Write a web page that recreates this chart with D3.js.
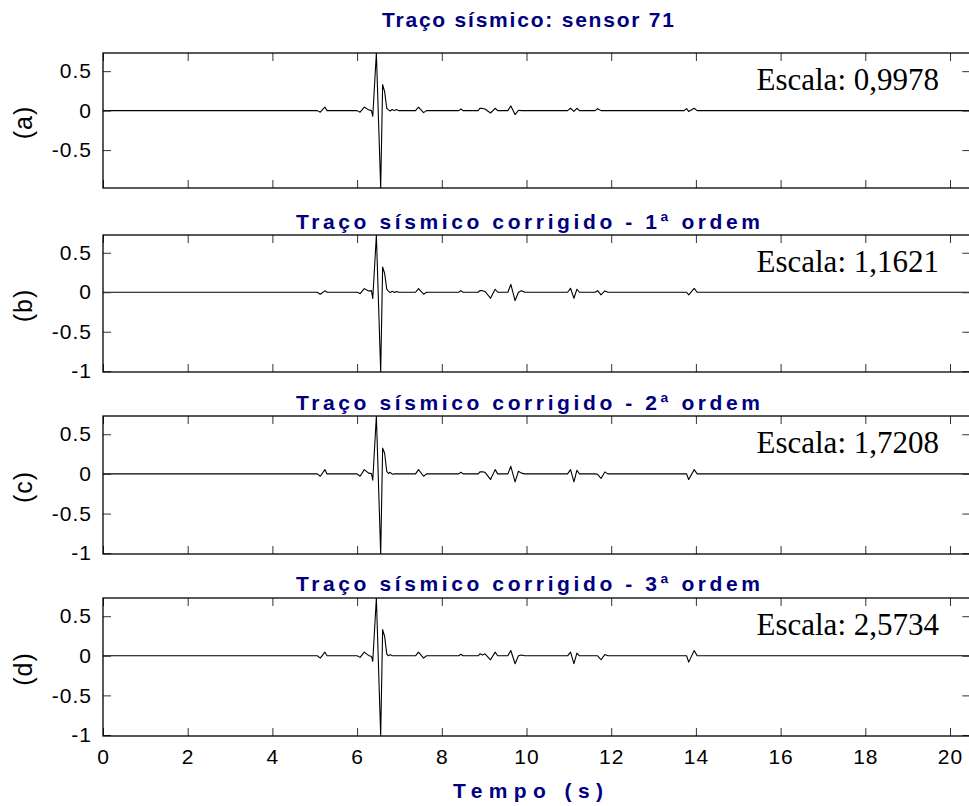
<!DOCTYPE html>
<html>
<head>
<meta charset="utf-8">
<script src="https://cdn.jsdelivr.net/npm/d3@7"></script>
<style>
  html, body { margin: 0; padding: 0; background: #fff; }
  svg { display: block; }
</style>
</head>
<body>
<svg id="chart" width="969" height="806"></svg>
<script>
// ---- Data ----
const timeBreaks = [
  0, 5.06, 5.13, 5.24, 5.29,
  6.00, 6.07, 6.17, 6.27, 6.34, 6.37, 6.455, 6.557, 6.603, 6.65, 6.70, 6.74, 6.78, 6.83, 6.88, 6.93, 6.98,
  7.38, 7.45, 7.57, 7.64,
  8.40, 8.45, 8.50,
  8.86, 8.90, 8.96, 9.02, 9.15, 9.26, 9.32,
  9.56, 9.63, 9.73, 9.81, 9.88, 9.96,
  10.97, 11.04, 11.12, 11.19, 11.25,
  11.62, 11.68, 11.76, 11.85, 11.92,
  13.72, 13.78, 13.83, 13.96, 14.03,
  20.48
];
const traceA = [
  0, 0, -0.02, 0.045, 0,
  0, -0.02, 0.045, 0.01, 0.0, -0.072, 0.73, -0.98, 0.33, 0.24, 0.03, 0.01, -0.005, 0.015, 0.0, 0.015, 0,
  0, 0.045, -0.025, 0,
  0, 0.02, 0,
  0, 0.028, 0.028, 0.02, -0.03, 0.03, 0,
  0, 0.06, -0.05, 0.005, 0.0, 0,
  0, 0.03, -0.01, 0.03, 0,
  0, 0.025, 0, 0, 0,
  0, 0.025, -0.01, 0.03, 0,
  0
];
const traceB = [
  0, 0, -0.025, 0.018, 0,
  0, -0.017, 0.046, 0.015, 0.02, -0.08, 0.725, -1.01, 0.32, 0.24, 0.04, 0.015, -0.005, 0.012, -0.004, 0.01, 0,
  0, 0.046, -0.025, 0,
  0, 0.02, 0,
  0, 0.02, 0.02, 0.01, -0.076, 0.038, 0,
  0, 0.10, -0.105, 0.0, 0.02, 0,
  0, 0.05, -0.076, 0.038, 0,
  0, 0.02, -0.034, 0.017, 0,
  0, 0, -0.034, 0.05, 0,
  0
];
const traceC = [
  0, 0, -0.03, 0.054, 0,
  0, -0.03, 0.054, 0.01, 0.003, -0.08, 0.73, -1.01, 0.325, 0.26, 0.033, 0.005, 0.02, -0.004, 0.0, 0.0, 0,
  0, 0.054, -0.03, 0,
  0, 0.02, 0,
  0, 0.025, 0.025, 0.02, -0.07, 0.054, 0,
  0, 0.096, -0.10, 0.033, 0.01, 0,
  0, 0.054, -0.10, 0.046, 0,
  0, -0.005, -0.058, 0.025, 0,
  0, 0, -0.07, 0.054, 0,
  0
];
const traceD = [
  0, 0, -0.03, 0.046, 0,
  0, -0.02, 0.046, 0.005, -0.008, -0.07, 0.73, -1.01, 0.33, 0.245, 0.025, 0.0, 0.015, 0.0, 0, 0, 0,
  0, 0.046, -0.03, 0,
  0, 0.02, 0,
  0, 0.025, 0.01, 0.025, -0.05, 0.046, 0,
  0, 0.067, -0.10, 0.0, 0.01, 0,
  0, 0.046, -0.10, 0.034, 0,
  0, 0.0, -0.05, 0.015, 0,
  0, 0, -0.08, 0.067, 0,
  0
];
const panelTitles = [
  "Traço sísmico: sensor 71",
  "Traço sísmico corrigido - 1ª ordem",
  "Traço sísmico corrigido - 2ª ordem",
  "Traço sísmico corrigido - 3ª ordem"
];
const panelLabels = ["(a)", "(b)", "(c)", "(d)"];
const scaleTexts = ["Escala: 0,9978", "Escala: 1,1621", "Escala: 1,7208", "Escala: 2,5734"];
const yLimits = [[-0.98, 0.73], [-1.01, 0.725], [-1.01, 0.73], [-1.013, 0.73]];
const yTicksA = [-0.5, 0, 0.5];
const yTicksBCD = [-1, -0.5, 0, 0.5];
const xTicks = [0, 2, 4, 6, 8, 10, 12, 14, 16, 18, 20];
const xLimits = [0, 20.48];
const xLabel = "Tempo (s)";
const traces = [traceA, traceB, traceC, traceD];

// ---- Layout ----
const svg = d3.select("#chart");
const left = 103, pxPerSec = 42.35;
const panelBoxes = [[53, 188], [235, 372], [416, 554], [598, 736]];
const titleBaselines = [27, 229, 410, 591];
const titleWidths = [292, 464, 464, 464];
const navy = "#00007f";

const x = d3.scaleLinear().domain(xLimits).range([left, left + (xLimits[1] - xLimits[0]) * pxPerSec]);

panelBoxes.forEach((box, i) => {
  const [top, bottom] = box;
  const y = d3.scaleLinear().domain(yLimits[i]).range([bottom, top]);
  const g = svg.append("g");
  const clipId = "clip" + i;
  svg.append("clipPath").attr("id", clipId)
    .append("rect").attr("x", x.range()[0]).attr("y", top)
    .attr("width", x.range()[1] - x.range()[0]).attr("height", bottom - top);

  const pts = timeBreaks.map((t, k) => [t, traces[i][k]]);
  g.append("path")
    .datum(pts)
    .attr("clip-path", `url(#${clipId})`)
    .attr("fill", "none")
    .attr("stroke", "#000")
    .attr("stroke-width", 1.1)
    .attr("stroke-linejoin", "round")
    .attr("d", d3.line().x(d => x(d[0])).y(d => y(d[1])));

  const yt = i === 0 ? yTicksA : yTicksBCD;
  const fontAxis = "21px 'Liberation Sans', Arial, sans-serif";

  const gl = g.append("g").attr("transform", `translate(${left},0)`)
    .call(d3.axisLeft(y).tickValues(yt).tickSize(-8).tickPadding(11).tickFormat(d => String(d)));
  gl.selectAll("text").style("font", fontAxis).attr("fill", "#000").attr("letter-spacing", "1px");
  g.append("g").attr("transform", `translate(${x.range()[1]},0)`)
    .call(d3.axisRight(y).tickValues(yt).tickSize(-8).tickFormat(""));
  g.append("g").attr("transform", `translate(0,${top})`)
    .call(d3.axisTop(x).tickValues(xTicks).tickSize(-8).tickFormat(""));
  const gb = g.append("g").attr("transform", `translate(0,${bottom})`)
    .call(d3.axisBottom(x).tickValues(xTicks).tickSize(-8).tickPadding(13)
      .tickFormat(i === 3 ? (d => String(d)) : ""));
  gb.selectAll("text").style("font", fontAxis).attr("fill", "#000").attr("letter-spacing", "1px");

  g.selectAll(".domain").remove();
  g.selectAll(".tick line").attr("stroke", "#333").attr("stroke-width", 1);

  g.append("rect")
    .attr("x", x.range()[0]).attr("y", top)
    .attr("width", x.range()[1] - x.range()[0]).attr("height", bottom - top)
    .attr("fill", "none").attr("stroke", "#000").attr("stroke-width", 1.3);

  svg.append("text")
    .attr("x", 528).attr("y", titleBaselines[i])
    .attr("text-anchor", "middle")
    .attr("fill", navy)
    .attr("textLength", titleWidths[i])
    .attr("lengthAdjust", "spacing")
    .style("font", "bold 21px 'Liberation Sans', Arial, sans-serif")
    .text(panelTitles[i]);

  svg.append("text")
    .attr("transform", `translate(31.5,${(top + bottom) / 2 + 2}) rotate(-90)`)
    .attr("text-anchor", "middle")
    .attr("fill", "#000")
    .attr("letter-spacing", "1px")
    .style("font", "25px 'Liberation Sans', Arial, sans-serif")
    .text(panelLabels[i]);

  svg.append("text")
    .attr("x", 939).attr("y", top + 37)
    .attr("text-anchor", "end")
    .attr("fill", "#000")
    .style("font", "31px 'Liberation Serif', 'Times New Roman', serif")
    .text(scaleTexts[i]);
});

svg.append("text")
  .attr("x", 528).attr("y", 798)
  .attr("text-anchor", "middle")
  .attr("fill", navy)
  .attr("textLength", 150)
  .attr("lengthAdjust", "spacing")
  .style("font", "bold 21px 'Liberation Sans', Arial, sans-serif")
  .text(xLabel);
</script>
</body>
</html>
